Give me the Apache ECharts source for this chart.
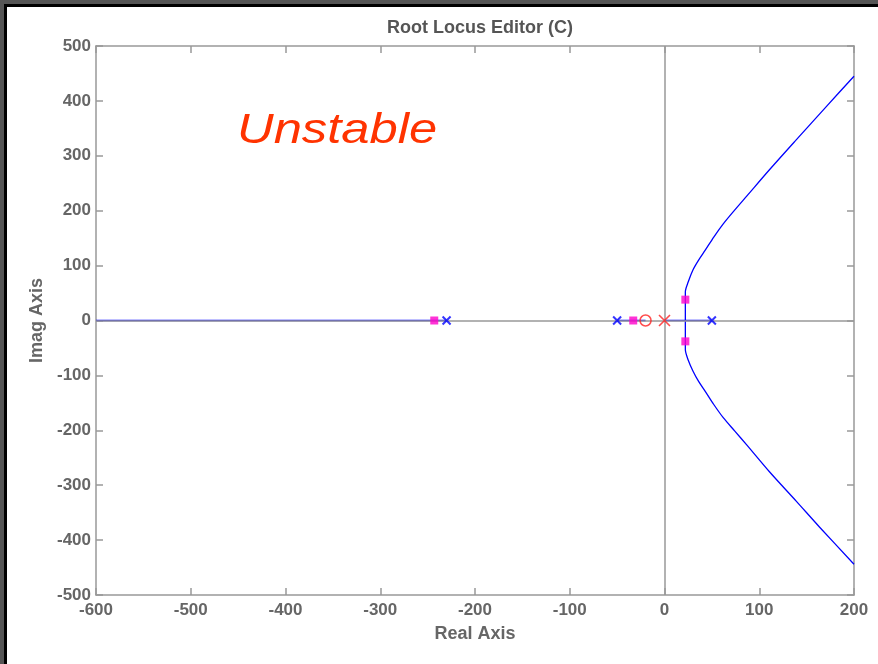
<!DOCTYPE html>
<html>
<head>
<meta charset="utf-8">
<script src="https://cdn.jsdelivr.net/npm/echarts@6/dist/echarts.min.js"></script>
<style>
  html, body { margin: 0; padding: 0; background: #fff; }
  #frame { position: absolute; left: 0; top: 0; width: 878px; height: 664px; background: #555; }
  #inner { position: absolute; left: 4px; top: 4px; width: 874px; height: 660px; background: #000; }
  #chart { position: absolute; left: 7px; top: 7px; width: 871px; height: 657px; background: #fff; }
</style>
</head>
<body>
<div id="frame"><div id="inner"></div></div>
<div id="chart"></div>
<script>
// Axis ranges and tick values
const xTicks = [-600, -500, -400, -300, -200, -100, 0, 100, 200];
const yTicks = [-500, -400, -300, -200, -100, 0, 100, 200, 300, 400, 500];

// Open-loop poles and zeros
const plantPoles = [[-230, 0], [-50, 0], [50, 0]];
const compPole = [[0, 0]];
const compZero = [[-20, 0]];

// Closed-loop poles at the current gain
const closedLoopPoles = [[-243, 0], [-33, 0], [22, 38], [22, -38]];

// Real-axis locus segments
const realSegA = [[-600, 0], [-230, 0]];
const realSegB = [[-50, 0], [-20, 0]];
const realSegC = [[0, 0], [50, 0]];

// Complex branches leaving the breakaway point
const upperBranch = [[22, 0], [22, 40], [22, 52], [25, 70], [30, 92], [36, 110], [43, 128], [52, 152],
  [62, 176], [74, 201], [87, 227], [111, 275], [139, 329], [171, 390], [200, 445]];
const lowerBranch = [[22, 0], [22, -40], [22, -53], [25, -72], [30, -92], [36, -111], [43, -129], [52, -153],
  [62, -177], [74, -201], [87, -227], [111, -276], [139, -329], [164, -377], [200, -444]];

const chart = echarts.init(document.getElementById('chart'));
const OX = -7, OY = -7; // chart div offset relative to page

const grid = { left: 96 + OX, top: 46 + OY, width: 758, height: 549 };
const gray = '#999';
const FONT = 'Liberation Sans, Arial, sans-serif';
const labelStyle = { color: '#666', fontSize: 17, fontWeight: 'bold', fontFamily: FONT };
const nameStyle = { color: '#666', fontSize: 18, fontWeight: 'bold', fontFamily: FONT };

const crossPath = 'path://M0,0L10,10M10,0L0,10';

function locus(data, smooth) {
  return {
    type: 'line', data: data, xAxisIndex: 0, yAxisIndex: 0, symbol: 'none', smooth: smooth || false,
    lineStyle: { color: '#0000ff', width: 1.3 }, z: 3, clip: true, animation: false
  };
}

function boxAxis(pos, min, max, interval) {
  return {
    type: 'value', min: min, max: max, interval: interval, position: pos,
    axisLine: { show: true, onZero: false, lineStyle: { color: gray, width: 1.5 } },
    axisTick: { show: true, inside: true, length: 7, lineStyle: { color: gray, width: 1.5 } },
    axisLabel: { show: false }, splitLine: { show: false }
  };
}

chart.setOption({
  animation: false,
  title: {
    text: 'Root Locus Editor (C)', left: 475 + OX, top: 14 + OY, textAlign: 'center',
    textStyle: { color: '#555', fontSize: 18, fontWeight: 'bold', fontFamily: FONT }
  },
  grid: grid,
  xAxis: [{
    type: 'value', min: xTicks[0], max: xTicks[xTicks.length - 1], interval: 100, position: 'bottom',
    name: 'Real Axis', nameLocation: 'middle', nameGap: 30, nameTextStyle: nameStyle,
    axisLine: { show: true, onZero: false, lineStyle: { color: gray, width: 1.5 } },
    axisTick: { show: true, inside: true, length: 7, lineStyle: { color: gray, width: 1.5 } },
    axisLabel: Object.assign({ margin: 7 }, labelStyle),
    splitLine: { show: false }
  }, boxAxis('top', xTicks[0], xTicks[xTicks.length - 1], 100)],
  yAxis: [{
    type: 'value', min: yTicks[0], max: yTicks[yTicks.length - 1], interval: 100, position: 'left',
    name: 'Imag Axis', nameLocation: 'middle', nameGap: 50, nameRotate: 90, nameTextStyle: nameStyle,
    axisLine: { show: true, onZero: false, lineStyle: { color: gray, width: 1.5 } },
    axisTick: { show: true, inside: true, length: 7, lineStyle: { color: gray, width: 1.5 } },
    axisLabel: Object.assign({ margin: 5 }, labelStyle),
    splitLine: { show: false }
  }, boxAxis('right', yTicks[0], yTicks[yTicks.length - 1], 100)],
  graphic: [{
    type: 'text', x: 237 + OX, y: 131 + OY, scaleX: 1.18,
    style: {
      text: 'Unstable', fill: '#ff3300', fontSize: 43, fontStyle: 'italic',
      fontFamily: FONT, verticalAlign: 'middle'
    }, z: 10
  }],
  series: [
    {
      // coordinate axes through the origin
      type: 'line', data: [], symbol: 'none', z: 1,
      markLine: {
        silent: true, symbol: 'none', label: { show: false }, animation: false,
        lineStyle: { color: gray, width: 1.5, type: 'solid' },
        data: [{ xAxis: 0 }, { yAxis: 0 }]
      }
    },
    locus(realSegA), locus(realSegB), locus(realSegC),
    locus(upperBranch, 0.3), locus(lowerBranch, 0.3),
    {
      type: 'scatter', data: plantPoles, symbol: crossPath, symbolSize: 8, z: 5,
      itemStyle: { color: 'none', borderColor: '#0000ff', borderWidth: 2 }
    },
    {
      type: 'scatter', data: compPole, symbol: crossPath, symbolSize: 11, z: 5,
      itemStyle: { color: 'none', borderColor: '#ff2020', borderWidth: 1.6 }
    },
    {
      type: 'scatter', data: compZero, symbol: 'circle', symbolSize: 11, z: 5,
      itemStyle: { color: 'none', borderColor: '#ff2020', borderWidth: 1.5 }
    },
    {
      type: 'scatter', data: closedLoopPoles, symbol: 'rect', symbolSize: 8, z: 6,
      itemStyle: { color: '#ff00cc' }
    }
  ]
});
</script>
</body>
</html>
